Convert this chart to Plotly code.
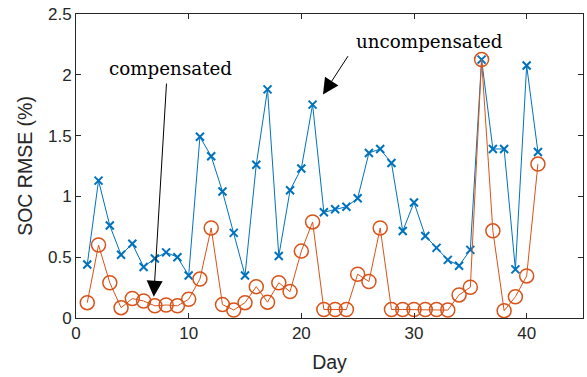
import plotly.graph_objects as go

days = list(range(1, 42))
uncompensated = [0.44, 1.13, 0.76, 0.52, 0.61, 0.42, 0.49, 0.54, 0.50, 0.35,
                 1.49, 1.33, 1.04, 0.70, 0.35, 1.26, 1.88, 0.51, 1.05, 1.23,
                 1.755, 0.87, 0.895, 0.915, 0.985, 1.357, 1.39, 1.274, 0.715, 0.95,
                 0.675, 0.577, 0.478, 0.43, 0.56, 2.125, 1.39, 1.39, 0.40, 2.076,
                 1.365]
compensated = [0.126, 0.60, 0.29, 0.085, 0.16, 0.14, 0.10, 0.107, 0.10, 0.154,
               0.32, 0.74, 0.11, 0.066, 0.126, 0.258, 0.13, 0.29, 0.217, 0.55,
               0.79, 0.07, 0.07, 0.07, 0.36, 0.30, 0.74, 0.07, 0.07, 0.07,
               0.07, 0.07, 0.065, 0.19, 0.253, 2.125, 0.717, 0.06, 0.175, 0.346,
               1.266]
x_ticks = [0, 10, 20, 30, 40]
y_ticks = [0, 0.5, 1, 1.5, 2, 2.5]

BLUE = "#0072BD"
ORANGE = "#D95319"
AX = "#262626"

fig = go.Figure()
fig.add_trace(go.Scatter(x=days, y=uncompensated, mode="lines+markers",
                         line=dict(color=BLUE, width=1),
                         marker=dict(symbol="x-thin", size=8, color=BLUE,
                                     line=dict(color=BLUE, width=2)),
                         name="uncompensated"))
fig.add_trace(go.Scatter(x=days, y=compensated, mode="lines+markers",
                         line=dict(color=ORANGE, width=1),
                         marker=dict(symbol="circle-open", size=14, color=ORANGE,
                                     line=dict(color=ORANGE, width=1.5)),
                         name="compensated"))

serif = "DejaVu Serif"
fig.add_annotation(x=6.9, y=0.175, ax=8.04, ay=1.94, xref="x", yref="y",
                   axref="x", ayref="y", text="", showarrow=True,
                   arrowhead=2, arrowsize=3.2, arrowwidth=1, arrowcolor="black")
fig.add_annotation(x=21.92, y=1.837, ax=24.23, ay=2.166, xref="x", yref="y",
                   axref="x", ayref="y", text="", showarrow=True,
                   arrowhead=2, arrowsize=3.2, arrowwidth=1, arrowcolor="black")
fig.add_annotation(x=8.38, y=2.05, xref="x", yref="y", text="compensated",
                   showarrow=False, font=dict(family=serif, size=18.3, color="black"))
fig.add_annotation(x=31.4, y=2.276, xref="x", yref="y", text="uncompensated",
                   showarrow=False, font=dict(family=serif, size=18.3, color="black"))

axis_common = dict(showline=True, linecolor=AX, linewidth=1, mirror="allticks",
                   ticks="inside", ticklen=5, tickcolor=AX, showgrid=False,
                   zeroline=False, automargin=False,
                   tickfont=dict(family="Liberation Sans", size=17, color=AX))
fig.update_xaxes(range=[0, 45], tickvals=x_ticks, title=dict(text="Day", standoff=12,
                 font=dict(family="Liberation Sans", size=19.5, color=AX)), **axis_common)
fig.update_yaxes(range=[0, 2.5], tickvals=y_ticks, title=dict(text="SOC RMSE (%)", standoff=10,
                 font=dict(family="Liberation Sans", size=19.5, color=AX)), **axis_common)
fig.update_layout(width=587, height=377, margin=dict(l=76, r=4, t=14, b=59),
                  plot_bgcolor="white", paper_bgcolor="white", showlegend=False)
fig.write_html("out.html", config={"displayModeBar": False},
               post_script="document.body.style.margin='0px';")
